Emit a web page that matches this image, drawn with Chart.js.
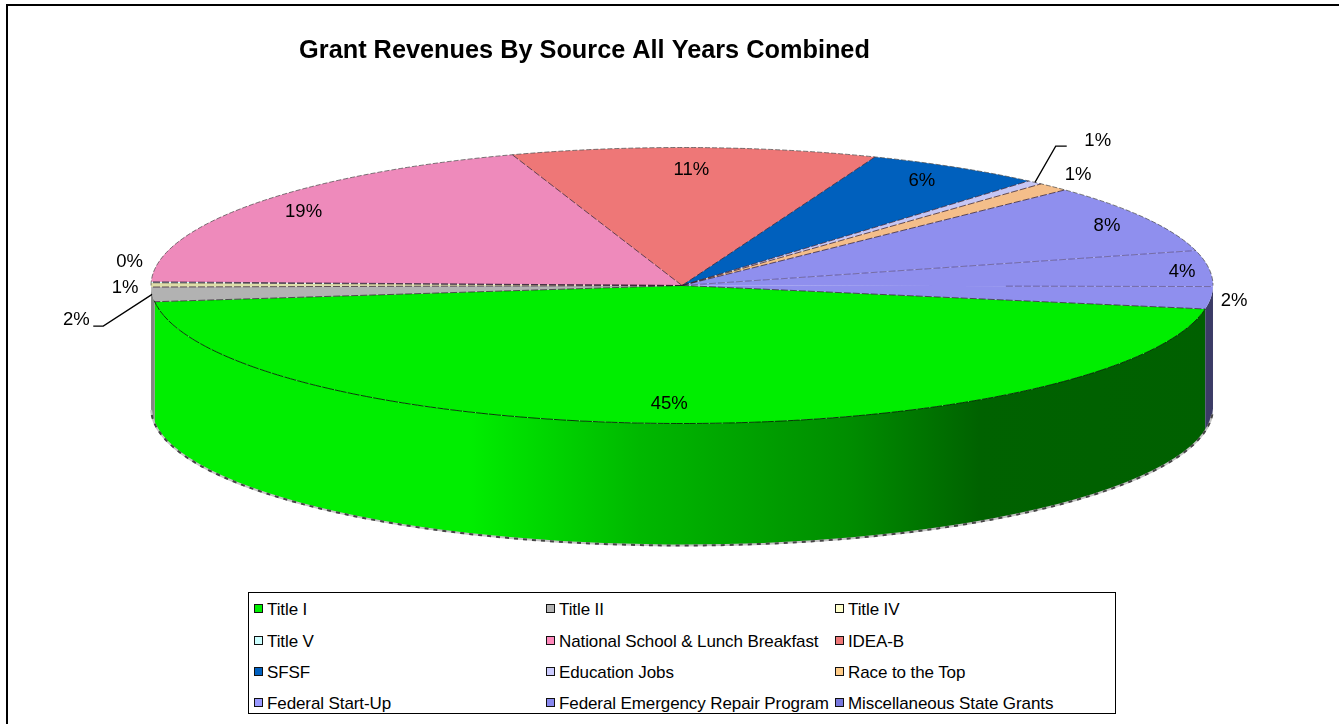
<!DOCTYPE html>
<html lang="en">

<head>
    <meta charset="UTF-8">
    <title>Grant Revenues By Source All Years Combined</title>
    <script src="https://cdn.jsdelivr.net/npm/chart.js"></script>
    <style>
        html, body { margin: 0; padding: 0; background: #fff; overflow: hidden; }
        #wrap { position: relative; width: 1339px; height: 724px; overflow: hidden; }
        #frame { position: absolute; left: 6px; top: 4px; width: 1400px; height: 800px; border: 2px solid #000; }
        canvas { position: absolute; left: 0; top: 0; }
        #legend { position: absolute; left: 248px; top: 592px; width: 866px; height: 120px; border: 1.5px solid #000; background: #fff;
            font: 17px "Liberation Sans", Arial, sans-serif; letter-spacing: -0.1px; color: #000; }
        #legend div { position: absolute; white-space: nowrap; line-height: 18px; }
        #legend i { position: absolute; width: 7px; height: 7px; border: 1.5px solid #111; top: 3px; left: -13px; }
    </style>
</head>

<body>
    <div id="wrap">
        <div id="frame"></div>
        <canvas id="chart" width="1339" height="724"></canvas>
        <div id="legend"></div>
    </div>

    <script>
        const categories = ['Title I', 'Title II', 'Title IV', 'Title V', 'National School & Lunch Breakfast', 'IDEA-B',
            'SFSF', 'Education Jobs', 'Race to the Top', 'Federal Start-Up', 'Federal Emergency Repair Program', 'Miscellaneous State Grants'];
        const grantShare = [45.4, 1.7, 0.5, 0.1, 19.4, 11.1, 5.4, 0.5, 1.0, 8.1, 4.2, 2.6];
        const percentLabels = ['45%', '2%', '1%', '0%', '19%', '11%', '6%', '1%', '1%', '8%', '4%', '2%'];
        const sliceColors = ['#00ee00', '#b2b2b2', '#dddda8', '#ccffff', '#ee8abb', '#ee7777', '#0060bd', '#c6c6f4', '#f4be8a', '#8f8fee', '#8f8fee', '#8f8fee'];
        const swatchColors = ['#00ee00', '#b2b2b2', '#ffffcc', '#ccffff', '#ff88bb', '#ee7777', '#0060c0', '#ccccff', '#ffcc88', '#9999ff', '#8888ee', '#7777dd'];
        const sideColors = ['#00ee00', '#858585', '#a5a57a', '#99bbbb', '#aa6688', '#aa5555', '#004488', '#8888aa', '#aa8866', '#3b3b66', '#3b3b66', '#3b3b66'];

        // 3D look: ellipse on the page and the height of the wall
        const pie = { cx: 682, cy: 285.5, rx: 531, ry: 138, depth: 122 };
        const startAngle = 99.8; // chart.js rotation, degrees from 12 o'clock

        // where the percent text sits: angle (deg, clockwise from 3 o'clock) and fraction of the radius
        const labelAngle = [91.6, 167.6, 179, 189.3, 216.8, 271.2, 300.7, 306.8, 313, 331.7, 354.1, 6.2];
        const labelRadius = [0.86, 1.168, 1.049, 1.054, 0.89, 0.84, 0.885, 1.307, 1.094, 0.909, 0.947, 1.046];
        // leader lines: slice index, elbow and end relative to the text
        const leaders = [
            { slice: 1, elbowX: 27, endX: 17, dy: 6 },
            { slice: 7, elbowX: -42, endX: -31, dy: 5 }
        ];

        const legendColX = [18, 310, 599];
        const legendRowY = [8, 40, 71, 102];

        function elP(a, extra) {
            return { x: pie.cx + pie.rx * Math.cos(a), y: pie.cy + pie.ry * Math.sin(a) + (extra || 0) };
        }

        const pie3d = {
            id: 'pie3d',
            beforeDatasetsDraw(chart) {
                const ctx = chart.ctx;
                const arcs = chart.getDatasetMeta(0).data;
                const R = arcs[0].outerRadius;

                // wall first
                arcs.forEach((arc, i) => {
                    [0, Math.PI * 2].forEach(shift => {
                        const a0 = Math.max(arc.startAngle - shift, 0);
                        const a1 = Math.min(arc.endAngle - shift, Math.PI);
                        if (a1 <= a0) return;
                        ctx.beginPath();
                        ctx.ellipse(pie.cx, pie.cy, pie.rx, pie.ry, 0, a0, a1);
                        ctx.ellipse(pie.cx, pie.cy + pie.depth, pie.rx, pie.ry, 0, a1, a0, true);
                        ctx.closePath();
                        if (i === 0) {
                            const g = ctx.createLinearGradient(pie.cx - pie.rx, 0, pie.cx + pie.rx, 0);
                            g.addColorStop(0, '#00ee00');
                            g.addColorStop(0.3, '#00ee00');
                            g.addColorStop(0.46, '#00b800');
                            g.addColorStop(0.66, '#008c00');
                            g.addColorStop(0.78, '#006200');
                            g.addColorStop(1, '#006000');
                            ctx.fillStyle = g;
                        } else {
                            ctx.fillStyle = sideColors[i];
                        }
                        ctx.fill();
                    });
                });

                // speckled bottom rim
                ctx.save();
                ctx.lineWidth = 2;
                ctx.strokeStyle = '#c4c4c4';
                ctx.beginPath();
                ctx.ellipse(pie.cx, pie.cy + pie.depth, pie.rx, pie.ry, 0, 0.05, Math.PI - 0.02);
                ctx.stroke();
                ctx.strokeStyle = '#444';
                ctx.setLineDash([4, 5]);
                ctx.beginPath();
                ctx.ellipse(pie.cx, pie.cy + pie.depth, pie.rx, pie.ry, 0, 0.05, Math.PI - 0.02);
                ctx.stroke();
                ctx.restore();

                // squash the library's round arcs into the ellipse
                ctx.save();
                ctx.translate(pie.cx, pie.cy);
                ctx.scale(pie.rx / R, pie.ry / R);
                ctx.translate(-arcs[0].x, -arcs[0].y);
            },
            afterDatasetsDraw(chart) {
                const ctx = chart.ctx;
                const arcs = chart.getDatasetMeta(0).data;
                ctx.restore();

                // slice edges, the two inside the blue slices are fainter and the last one only starts part way out
                ctx.save();
                ctx.lineWidth = 1;
                ctx.setLineDash([7, 2]);
                arcs.forEach((arc, i) => {
                    const p = elP(arc.startAngle);
                    const from = i === 11 ? 0.61 : 0;
                    ctx.strokeStyle = i >= 10 ? 'rgba(50,30,70,0.45)' : 'rgba(50,30,50,0.75)';
                    ctx.beginPath();
                    ctx.moveTo(pie.cx + (p.x - pie.cx) * from, pie.cy + (p.y - pie.cy) * from);
                    ctx.lineTo(p.x, p.y);
                    ctx.stroke();
                });
                // rim of the top face: grey at the back, dark where it meets the wall
                ctx.setLineDash([5, 2]);
                ctx.strokeStyle = 'rgba(70,70,70,0.7)';
                ctx.beginPath();
                ctx.ellipse(pie.cx, pie.cy, pie.rx, pie.ry, 0, Math.PI, Math.PI * 2);
                ctx.stroke();
                ctx.strokeStyle = 'rgba(0,40,0,0.9)';
                ctx.setLineDash([12, 1]);
                ctx.beginPath();
                ctx.ellipse(pie.cx, pie.cy, pie.rx, pie.ry, 0, 0.17, Math.PI - 0.11);
                ctx.stroke();
                ctx.restore();

                // percent text and leader lines
                ctx.save();
                ctx.font = '18.5px "Liberation Sans", Arial, sans-serif';
                ctx.fillStyle = '#000';
                ctx.textAlign = 'center';
                ctx.textBaseline = 'middle';
                const pos = percentLabels.map((t, i) => {
                    const a = labelAngle[i] * Math.PI / 180;
                    return {
                        x: pie.cx + pie.rx * labelRadius[i] * Math.cos(a),
                        y: pie.cy + pie.ry * labelRadius[i] * Math.sin(a)
                    };
                });
                percentLabels.forEach((t, i) => ctx.fillText(t, pos[i].x, pos[i].y));
                ctx.strokeStyle = '#000';
                ctx.lineWidth = 1.3;
                leaders.forEach(l => {
                    const arc = arcs[l.slice];
                    const rim = elP((arc.startAngle + arc.endAngle) / 2);
                    const t = pos[l.slice];
                    ctx.beginPath();
                    ctx.moveTo(rim.x, rim.y);
                    ctx.lineTo(t.x + l.elbowX, t.y + l.dy);
                    ctx.lineTo(t.x + l.endX, t.y + l.dy);
                    ctx.stroke();
                });
                ctx.restore();
            }
        };

        new Chart(document.getElementById('chart'), {
            type: 'pie',
            data: {
                labels: categories,
                datasets: [{
                    data: grantShare,
                    backgroundColor: sliceColors,
                    borderWidth: 0
                }]
            },
            options: {
                responsive: false,
                animation: false,
                events: [],
                rotation: startAngle,
                layout: { padding: { right: 170 } },
                plugins: {
                    legend: { display: false },
                    tooltip: { enabled: false },
                    title: {
                        display: true,
                        fullSize: false,
                        text: 'Grant Revenues By Source All Years Combined',
                        color: '#000',
                        font: { family: '"Liberation Sans", Arial, sans-serif', size: 25.3, weight: 'bold' },
                        padding: { top: 36, bottom: 10 }
                    }
                }
            },
            plugins: [pie3d]
        });

        // legend box, three columns
        const legend = document.getElementById('legend');
        categories.forEach((name, i) => {
            const item = document.createElement('div');
            item.style.left = legendColX[i % 3] + 'px';
            item.style.top = legendRowY[Math.floor(i / 3)] + 'px';
            item.textContent = name;
            const mark = document.createElement('i');
            mark.style.background = swatchColors[i];
            item.appendChild(mark);
            legend.appendChild(item);
        });
    </script>
</body>

</html>
